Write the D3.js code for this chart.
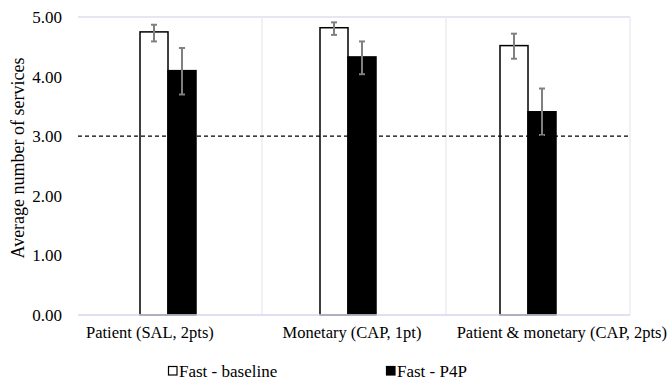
<!DOCTYPE html>
<html>
<head>
<meta charset="utf-8">
<script src="https://cdn.jsdelivr.net/npm/d3@7"></script>
<style>
  body { margin: 0; background: #fff; }
</style>
</head>
<body>
<svg id="chart"></svg>
<script>
// categories and series
const categories = ["Patient (SAL, 2pts)", "Monetary (CAP, 1pt)", "Patient & monetary (CAP, 2pts)"];
const seriesNames = ["Fast - baseline", "Fast - P4P"];
const baseline = [4.75, 4.82, 4.52];
const baselineLow = [4.59, 4.70, 4.30];
const baselineHigh = [4.87, 4.91, 4.72];
const p4p = [4.10, 4.33, 3.41];
const p4pLow = [3.70, 4.04, 3.02];
const p4pHigh = [4.48, 4.59, 3.80];
const yTicks = [0, 1, 2, 3, 4, 5];
const refLine = 3;

const FONT = "Liberation Serif";
const width = 671, height = 382;
const margin = {top: 17, right: 41, bottom: 67, left: 78};
const svg = d3.select("#chart").attr("width", width).attr("height", height);
const innerW = width - margin.left - margin.right;
const innerH = height - margin.top - margin.bottom;
const g = svg.append("g").attr("transform", "translate(" + margin.left + "," + margin.top + ")");

const x = d3.scaleBand().domain(categories).range([0, innerW]);
// bars sit a little left of the category centres in the original
const xBars = d3.scaleBand().domain(categories).range([0, innerW - 12]);
const y = d3.scaleLinear().domain([0, 5]).range([innerH, 0]);
const barW = 28;

// frame and vertical separators
g.append("line").attr("x1", 0).attr("x2", innerW).attr("y1", 0).attr("y2", 0)
  .attr("stroke", "#dcdcf0").attr("stroke-width", 1.5);
g.selectAll(".vsep").data(categories.slice(1).concat(["end"]))
  .enter().append("line")
  .attr("x1", (d, i) => x.step() * (i + 1)).attr("x2", (d, i) => x.step() * (i + 1))
  .attr("y1", 0).attr("y2", innerH)
  .attr("stroke", "#ececf2").attr("stroke-width", 1.5);

// y axis
const yAxis = g.append("g").call(d3.axisLeft(y).tickValues(yTicks).tickFormat(d3.format(".2f")).tickSize(0).tickPadding(16));
yAxis.select(".domain").remove();
yAxis.attr("font-family", FONT).attr("font-size", 17);
yAxis.selectAll("text").attr("fill", "#000");

svg.append("text")
  .attr("transform", "translate(24,158) rotate(-90)")
  .attr("text-anchor", "middle")
  .attr("font-family", FONT).attr("font-size", 18)
  .text("Average number of services");

// bars
const rows = categories.map((c, i) => ({
  cat: c,
  vals: [
    {s: 0, v: baseline[i], lo: baselineLow[i], hi: baselineHigh[i]},
    {s: 1, v: p4p[i], lo: p4pLow[i], hi: p4pHigh[i]}
  ]
}));

const grp = g.selectAll(".cat").data(rows).enter().append("g")
  .attr("transform", d => "translate(" + (xBars(d.cat) + xBars.bandwidth() / 2 - barW) + ",0)");

grp.selectAll("rect").data(d => d.vals).enter().append("rect")
  .attr("x", d => d.s * barW)
  .attr("y", d => y(d.v))
  .attr("width", barW)
  .attr("height", d => innerH - y(d.v))
  .attr("fill", d => d.s === 0 ? "#fff" : "#000")
  .attr("stroke", "#000")
  .attr("stroke-width", 1.5);

// reference dashed line
g.append("line").attr("x1", 0).attr("x2", innerW).attr("y1", y(refLine)).attr("y2", y(refLine))
  .attr("stroke", "#000").attr("stroke-width", 1.3).attr("stroke-dasharray", "4,3");

// error bars
const eb = grp.selectAll(".err").data(d => d.vals).enter().append("g")
  .attr("stroke", "#808080").attr("stroke-width", 2);
eb.append("line").attr("x1", d => d.s * barW + barW / 2).attr("x2", d => d.s * barW + barW / 2)
  .attr("y1", d => y(d.hi)).attr("y2", d => y(d.lo));
eb.append("line").attr("x1", d => d.s * barW + barW / 2 - 3).attr("x2", d => d.s * barW + barW / 2 + 3)
  .attr("y1", d => y(d.hi)).attr("y2", d => y(d.hi));
eb.append("line").attr("x1", d => d.s * barW + barW / 2 - 3).attr("x2", d => d.s * barW + barW / 2 + 3)
  .attr("y1", d => y(d.lo)).attr("y2", d => y(d.lo));

// x axis line
g.append("line").attr("x1", 0).attr("x2", innerW).attr("y1", innerH).attr("y2", innerH)
  .attr("stroke", "#d6d6ec").attr("stroke-width", 1.5);

// x labels: first left aligned, middle centred, last right aligned
const anchors = ["start", "middle", "end"];
g.selectAll(".xl").data(categories).enter().append("text")
  .attr("x", (d, i) => i === 0 ? 8 : i === 1 ? x(d) + x.bandwidth() / 2 - 2 : width - margin.left - 4)
  .attr("y", innerH + 23)
  .attr("text-anchor", (d, i) => anchors[i])
  .attr("font-family", FONT).attr("font-size", 16.5)
  .text(d => d);

// legend
const legX = [168, 386];
const leg = svg.selectAll(".leg").data(seriesNames).enter().append("g")
  .attr("transform", (d, i) => "translate(" + legX[i] + ",366)");
leg.append("rect").attr("x", 0.5).attr("y", 0.5).attr("width", 8.5).attr("height", 8.5)
  .attr("fill", (d, i) => i === 0 ? "#fff" : "#000").attr("stroke", "#000").attr("stroke-width", 1.2);
leg.append("text").attr("x", 11).attr("y", 11)
  .attr("font-family", FONT).attr("font-size", 17)
  .text(d => d);
</script>
</body>
</html>
